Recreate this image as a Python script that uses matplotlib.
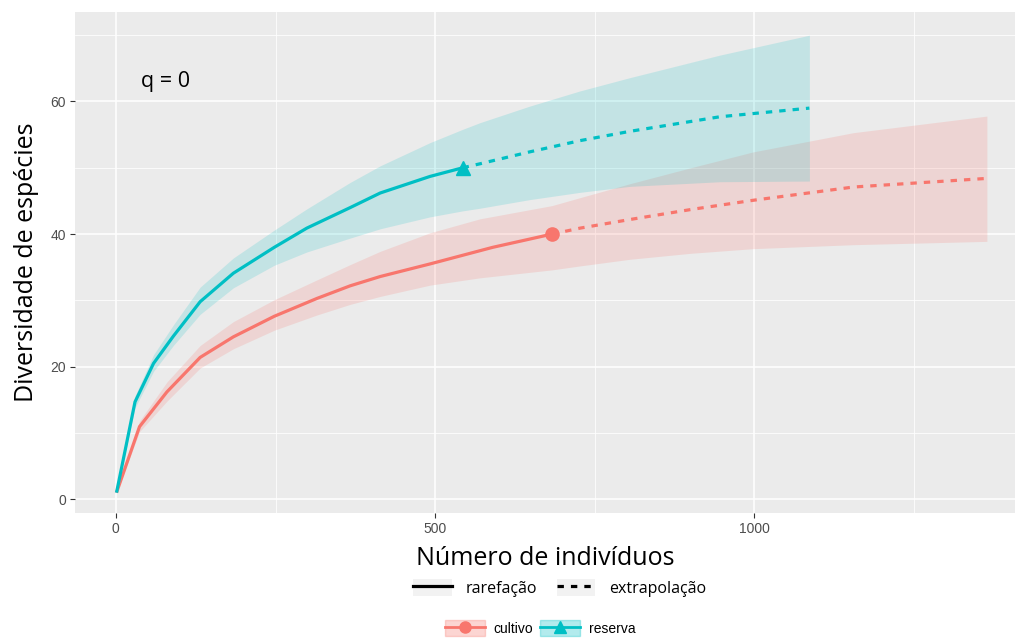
import matplotlib
matplotlib.use("Agg")
import matplotlib.pyplot as plt
from matplotlib.lines import Line2D
from matplotlib.patches import Patch

# ---------------- data ----------------
groups = ["cultivo", "reserva"]
line_types = ["rarefação", "extrapolação"]

cult_rare_x = [1, 37, 80, 132, 184, 248, 315, 367, 414, 492, 590, 683]
cult_rare_y = [1, 10.95, 16.2, 21.4, 24.5, 27.6, 30.3, 32.2, 33.6, 35.5, 38.0, 40.0]
cult_ext_x = [683, 727, 805, 900, 998, 1155, 1364]
cult_ext_y = [40.0, 40.9, 42.2, 43.7, 45.1, 47.1, 48.4]
cult_ci_x = [1, 37, 80, 132, 184, 248, 315, 367, 414, 492, 570, 683, 727, 805, 900, 998, 1155, 1364]
cult_ci_lo = [1, 10.2, 14.8, 19.8, 22.7, 25.5, 27.8, 29.4, 30.6, 32.3, 33.4, 34.6, 35.2, 36.2, 37.1, 37.8, 38.4, 38.9]
cult_ci_hi = [1, 11.8, 17.7, 23.2, 26.8, 30.1, 33.1, 35.4, 37.4, 40.2, 42.3, 44.3, 45.5, 47.6, 50.0, 52.4, 55.3, 57.8]

res_rare_x = [1, 30, 59, 90, 132, 184, 248, 299, 367, 414, 492, 543]
res_rare_y = [1, 14.7, 20.5, 24.6, 29.8, 34.1, 38.0, 40.9, 44.0, 46.2, 48.7, 50.0]
res_ext_x = [543, 570, 648, 727, 805, 946, 1086]
res_ext_y = [50.0, 50.6, 52.4, 54.1, 55.5, 57.7, 59.0]
res_ci_x = [1, 30, 59, 90, 132, 184, 248, 299, 367, 414, 492, 543, 570, 648, 727, 805, 946, 1086]
res_ci_lo = [1, 13.8, 19.3, 23.2, 27.9, 31.9, 35.3, 37.3, 39.4, 40.8, 42.6, 43.5, 43.9, 45.2, 46.3, 47.2, 47.9, 48.0]
res_ci_hi = [1, 15.6, 21.8, 26.3, 32.0, 36.4, 40.6, 43.8, 47.8, 50.3, 53.8, 55.8, 56.8, 59.3, 61.6, 63.6, 67.0, 70.0]

x_ticks = [0, 500, 1000]
y_ticks = [0, 20, 40, 60]

# ---------------- style ----------------
RED = "#F8766D"
CYAN = "#00BFC4"
BG = "#EBEBEB"
SANS = ["Open Sans", "DejaVu Sans"]
ARIAL = ["Liberation Sans", "DejaVu Sans"]
DASH = (0, (2, 2.2))

fig = plt.figure(figsize=(10.19, 6.38), dpi=100)
ax = fig.add_axes([75 / 1019, 1 - 513 / 638, (1015 - 75) / 1019, (513 - 12) / 638])
ax.set_facecolor(BG)
for s in ax.spines.values():
    s.set_visible(False)

ax.set_xlim(-64, 1408)
ax.set_ylim(-2.07, 73.5)
ax.set_xticks(x_ticks)
ax.set_yticks(y_ticks)
ax.set_xticks([250, 750, 1250], minor=True)
ax.set_yticks([10, 30, 50, 70], minor=True)
ax.grid(which="major", color="white", lw=1.1)
ax.grid(which="minor", color="white", lw=0.55)
ax.set_axisbelow(True)
ax.tick_params(which="major", length=3.5, width=0.8, color="#333333",
               labelsize=10, labelcolor="#4D4D4D", pad=3)
ax.tick_params(which="minor", length=0)
for lab in ax.get_xticklabels() + ax.get_yticklabels():
    lab.set_family(ARIAL)

# confidence bands
ax.fill_between(cult_ci_x, cult_ci_lo, cult_ci_hi, color=RED, alpha=0.19, lw=0)
ax.fill_between(res_ci_x, res_ci_lo, res_ci_hi, color=CYAN, alpha=0.17, lw=0)

# curves
lw = 2.3
ax.plot(cult_rare_x, cult_rare_y, color=RED, lw=lw, solid_capstyle="butt")
ax.plot(cult_ext_x, cult_ext_y, color=RED, lw=lw, ls=DASH)
ax.plot(res_rare_x, res_rare_y, color=CYAN, lw=lw, solid_capstyle="butt")
ax.plot(res_ext_x, res_ext_y, color=CYAN, lw=lw, ls=DASH)

# observed points
ax.plot([cult_rare_x[-1]], [cult_rare_y[-1]], marker="o", ms=9.5, color=RED, ls="none")
ax.plot([res_rare_x[-1]], [res_rare_y[-1]], marker="^", ms=10, color=CYAN, ls="none")

ax.text(40, 63.0, "q = 0", fontsize=15.5, family=SANS, va="center", ha="left", color="black")

ax.set_xlabel("Número de indivíduos", fontsize=18, family=SANS, labelpad=7)
ax.set_ylabel("Diversidade de espécies", fontsize=18, family=SANS, labelpad=8)

# legend 1: line types
keybg = "#F2F2F2"
h1 = [(Patch(facecolor=keybg, edgecolor="none"), Line2D([], [], color="black", lw=2.3)),
      (Patch(facecolor=keybg, edgecolor="none"), Line2D([], [], color="black", lw=2.3, ls=DASH))]
fig.legend(h1, line_types, ncol=2, frameon=False,
           loc="center", bbox_to_anchor=(560 / 1019, 1 - 588 / 638),
           prop={"family": SANS, "size": 11.5}, handlelength=2.4, handleheight=1.3,
           columnspacing=1.2, handletextpad=0.9)

# legend 2: groups
h2 = [(Patch(facecolor=RED, alpha=0.3, edgecolor=RED, lw=1),
       Line2D([], [], color=RED, lw=2, marker="o", ms=8)),
      (Patch(facecolor=CYAN, alpha=0.3, edgecolor=CYAN, lw=1),
       Line2D([], [], color=CYAN, lw=2, marker="^", ms=8))]
fig.legend(h2, groups, ncol=2, frameon=False,
           loc="center", bbox_to_anchor=(540 / 1019, 1 - 628 / 638),
           prop={"family": ARIAL, "size": 10}, handlelength=2.9,
           handleheight=1.3, columnspacing=0.5, handletextpad=0.6)

fig.savefig("out.png", dpi=100, facecolor="white")
